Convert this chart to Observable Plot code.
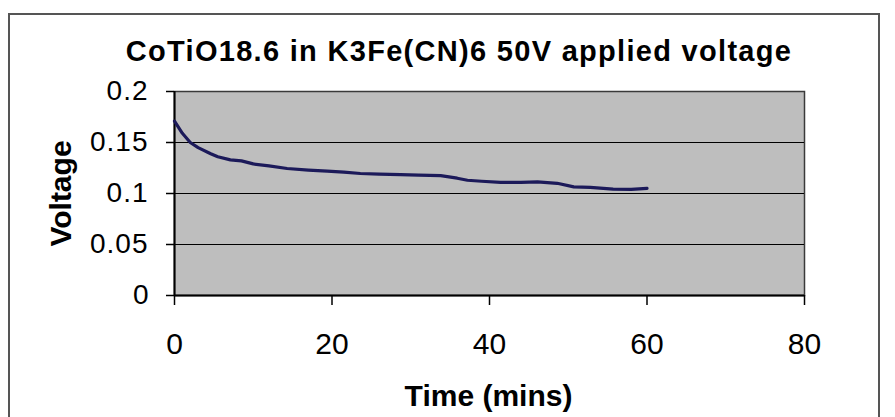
<!DOCTYPE html>
<html>
<head>
<meta charset="utf-8">
<script src="https://cdn.jsdelivr.net/npm/d3@7"></script>
<script src="https://cdn.jsdelivr.net/npm/@observablehq/plot@0.6"></script>
<style>
  html, body { margin: 0; padding: 0; background: #fff; overflow: hidden; }
  #wrap { position: relative; width: 895px; height: 417px; }
  #border { position: absolute; left: 8px; top: 13px; width: 872px; height: 500px; border: 2px solid #555; box-sizing: border-box; }
  #chart { position: absolute; left: 0; top: 0; }
</style>
</head>
<body>
<div id="wrap"><div id="border"></div><div id="chart"></div></div>
<script>
const titleText = "CoTiO18.6 in K3Fe(CN)6 50V applied voltage";
const xLabel = "Time (mins)";
const yLabel = "Voltage";

const time =    [0, 1, 2, 3, 4.6, 5.5, 7.1, 8.5, 10, 12, 14.3, 17, 19.4, 21.5, 23.6, 26, 28.7, 31, 33.8, 35.9, 37.2, 39, 41.4, 44, 46.1, 48.6, 50.7, 52.8, 55.7, 58, 60];
const voltage = [0.171, 0.159, 0.150, 0.145, 0.139, 0.136, 0.133, 0.132, 0.129, 0.127, 0.1245, 0.123, 0.122, 0.121, 0.1196, 0.119, 0.1186, 0.118, 0.1175, 0.115, 0.113, 0.112, 0.111, 0.111, 0.1114, 0.110, 0.1065, 0.106, 0.1042, 0.104, 0.105];

const xTicks = [0, 20, 40, 60, 80];
const xTickLabels = ["0", "20", "40", "60", "80"];
const yTicks = [0, 0.05, 0.1, 0.15, 0.2];
const yTickLabels = ["0", "0.05", "0.1", "0.15", "0.2"];

const data = time.map((t, i) => ({t, v: voltage[i]}));

const chart = Plot.plot({
  width: 895,
  height: 417,
  marginLeft: 174,
  marginRight: 91,
  marginTop: 91,
  marginBottom: 122,
  style: { fontFamily: "'Liberation Sans', Arial, sans-serif", background: "transparent", color: "#000", overflow: "visible" },
  x: { domain: [0, 80] },
  y: { domain: [0, 0.2] },
  marks: [
    Plot.frame({ fill: "#bebebe", stroke: "#3a3a3a", strokeWidth: 1.5 }),
    Plot.gridY(yTicks.filter(d => d > 0 && d < 0.2), { stroke: "#000", strokeOpacity: 1, strokeWidth: 1.2 }),
    Plot.axisY(yTicks, { tickSize: 8, tickPadding: 18, fontSize: 28, stroke: "#000", strokeWidth: 1.5, label: null,
      tickFormat: d => yTickLabels[yTicks.indexOf(d)] }),
    Plot.axisX(xTicks, { tickSize: 10, tickPadding: 27, fontSize: 30, stroke: "#000", strokeWidth: 1.5, label: null,
      tickFormat: d => xTickLabels[xTicks.indexOf(d)] }),
    Plot.ruleX([0], { stroke: "#000", strokeWidth: 2 }),
    Plot.ruleY([0], { stroke: "#000", strokeWidth: 2 }),
    Plot.line(data, { x: "t", y: "v", stroke: "#1c1a5a", strokeWidth: 3.2 }),
    Plot.text([titleText], { text: d => d, frameAnchor: "top", dy: -31, dx: -30.5, lineAnchor: "bottom",
      fontSize: 29, fontWeight: "bold", fill: "#000" }),
    Plot.text([xLabel], { text: d => d, frameAnchor: "bottom", dy: 110, dx: -1, lineAnchor: "bottom",
      fontSize: 30, fontWeight: "bold", fill: "#000" }),
    Plot.text([yLabel], { text: d => d, frameAnchor: "left", textAnchor: "middle", dx: -104, rotate: -90, lineAnchor: "bottom",
      fontSize: 30, fontWeight: "bold", fill: "#000" })
  ]
});

d3.select(chart).selectAll("text")
  .filter(function() { return this.textContent === titleText; })
  .style("letter-spacing", "1.3px");
d3.select(chart).selectAll("text")
  .filter(function() { return yTickLabels.includes(this.textContent) && this.textContent.includes("."); })
  .style("letter-spacing", "1px");
document.getElementById("chart").appendChild(chart);
</script>
</body>
</html>
